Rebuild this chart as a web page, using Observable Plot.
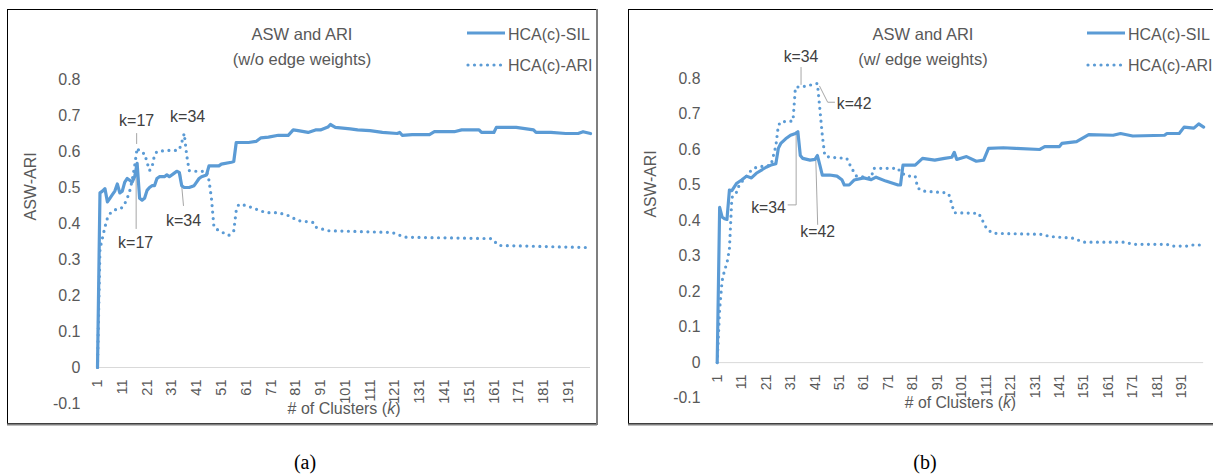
<!DOCTYPE html>
<html><head><meta charset="utf-8">
<script src="https://cdn.jsdelivr.net/npm/d3@7"></script>
<script src="https://cdn.jsdelivr.net/npm/@observablehq/plot@0.6"></script>
<style>
body{margin:0;background:#fff;width:1213px;height:476px;overflow:hidden;position:relative;font-family:"Liberation Sans",Arial,sans-serif;}
.panel{position:absolute;top:0;}
#deco{position:absolute;left:0;top:0;}
</style></head><body>
<svg id="deco" width="1213" height="476"></svg>
<div id="pa" class="panel" style="left:0px"></div>
<div id="pb" class="panel" style="left:621px"></div>
<script>
// ---------- data ----------
const xTicks = [1,11,21,31,41,51,61,71,81,91,101,111,121,131,141,151,161,171,181,191];
const yTicks = [-0.1,0,0.1,0.2,0.3,0.4,0.5,0.6,0.7,0.8];
const seriesNames = ["HCA(c)-SIL","HCA(c)-ARI"];
const titlesA = ["ASW and ARI","(w/o edge weights)"];
const titlesB = ["ASW and ARI","(w/ edge weights)"];

const leftSIL = [[1,0],[2,0.485],[3,0.49],[4,0.497],[5,0.46],[6,0.47],[7,0.48],[8,0.49],[9,0.51],[10,0.485],[11,0.49],[12,0.515],[13,0.525],[14,0.52],[15,0.515],[16,0.53],[17,0.567],[18,0.47],[19,0.465],[20,0.47],[21,0.492],[22,0.5],[23,0.505],[24,0.505],[25,0.525],[26,0.53],[28,0.53],[29,0.535],[30,0.53],[32,0.54],[33,0.545],[34,0.542],[35,0.505],[36,0.5],[38,0.5],[40,0.505],[41,0.515],[42,0.525],[43,0.53],[45,0.535],[46,0.56],[50,0.56],[51,0.565],[55,0.57],[56,0.572],[57,0.625],[62,0.625],[65,0.628],[67,0.638],[70,0.64],[74,0.645],[78,0.645],[80,0.66],[82,0.658],[86,0.653],[89,0.66],[91,0.66],[94,0.668],[95,0.675],[97,0.667],[103,0.663],[106,0.66],[111,0.658],[116,0.653],[122,0.65],[123,0.653],[124,0.645],[128,0.647],[135,0.647],[137,0.655],[145,0.655],[148,0.66],[155,0.66],[156,0.653],[161,0.653],[162,0.667],[170,0.667],[177,0.66],[178,0.653],[184,0.653],[190,0.65],[195,0.65],[197,0.655],[200,0.65]];
const leftARI = [[1,0],[2,0.33],[3,0.36],[4,0.39],[5,0.415],[6,0.427],[7,0.435],[8,0.438],[10,0.44],[11,0.445],[12,0.455],[13,0.47],[14,0.49],[15,0.52],[16,0.56],[17,0.61],[18,0.6],[19,0.595],[20,0.595],[21,0.57],[22,0.547],[23,0.556],[24,0.59],[25,0.6],[29,0.603],[33,0.603],[34,0.605],[35,0.625],[36,0.65],[37,0.59],[38,0.547],[41,0.545],[45,0.545],[46,0.52],[47,0.47],[48,0.39],[50,0.38],[54,0.367],[56,0.38],[57,0.436],[58,0.453],[61,0.45],[65,0.44],[69,0.43],[74,0.43],[78,0.422],[82,0.408],[88,0.403],[89,0.39],[94,0.38],[120,0.375],[125,0.362],[160,0.358],[163,0.339],[200,0.333]];
const rightSIL = [[1,0],[2,0.437],[3,0.41],[4,0.405],[5,0.403],[6,0.486],[7,0.484],[9,0.505],[11,0.514],[13,0.525],[15,0.52],[17,0.533],[21,0.55],[23,0.556],[25,0.56],[26,0.603],[27,0.617],[29,0.63],[31,0.64],[33,0.645],[34,0.65],[35,0.583],[36,0.575],[39,0.57],[41,0.572],[42,0.583],[43,0.556],[44,0.528],[47,0.528],[50,0.525],[52,0.515],[53,0.5],[55,0.5],[57,0.514],[61,0.52],[64,0.515],[66,0.522],[70,0.511],[75,0.5],[76,0.5],[77,0.556],[82,0.556],[85,0.575],[90,0.57],[94,0.575],[97,0.578],[98,0.592],[99,0.572],[103,0.58],[107,0.567],[110,0.57],[112,0.603],[118,0.605],[123,0.603],[133,0.6],[135,0.608],[141,0.608],[142,0.617],[148,0.622],[153,0.642],[163,0.64],[166,0.645],[171,0.638],[184,0.64],[185,0.645],[190,0.645],[192,0.663],[196,0.66],[198,0.672],[200,0.663]];
const rightARI = [[1,0],[2,0.15],[3,0.23],[4,0.26],[5,0.28],[6,0.32],[7,0.464],[8,0.475],[9,0.48],[10,0.5],[15,0.542],[17,0.55],[23,0.556],[25,0.61],[26,0.667],[27,0.678],[32,0.68],[33,0.775],[37,0.778],[42,0.786],[43,0.714],[44,0.64],[45,0.583],[47,0.578],[54,0.575],[56,0.547],[58,0.525],[64,0.52],[65,0.547],[75,0.547],[76,0.535],[79,0.525],[82,0.525],[83,0.492],[85,0.483],[95,0.478],[96,0.47],[97,0.445],[98,0.422],[108,0.42],[110,0.394],[111,0.38],[112,0.372],[114,0.364],[134,0.361],[137,0.355],[147,0.35],[149,0.344],[151,0.339],[168,0.339],[171,0.333],[185,0.333],[187,0.328],[193,0.328],[195,0.331],[200,0.331]];

const leftNotes = [{label:"k=17",tk:16.8,tv:0.686},{label:"k=34",tk:37.4,tv:0.697},{label:"k=17",tk:16.4,tv:0.347},{label:"k=34",tk:35.7,tv:0.408}];
const leftLeaders = [{id:1,k:16.8,v:0.65},{id:1,k:16.8,v:0.622},{id:3,k:16.6,v:0.386},{id:3,k:16.6,v:0.567},{id:4,k:35.7,v:0.45},{id:4,k:34.5,v:0.542}];
const rightNotes = [{label:"k=34",tk:35.3,tv:0.861},{label:"k=42",tk:57.0,tv:0.728},{label:"k=34",tk:22.0,tv:0.436},{label:"k=42",tk:42.1,tv:0.367}];
const rightLeaders = [{id:1,k:35.3,v:0.831},{id:1,k:35.3,v:0.783},{id:2,k:49.0,v:0.733},{id:2,k:46.2,v:0.733},{id:2,k:42.9,v:0.778},{id:3,k:30.0,v:0.444},{id:3,k:33.3,v:0.444},{id:3,k:33.3,v:0.65},{id:4,k:42.1,v:0.389},{id:4,k:41.3,v:0.581}];

// ---------- style ----------
const BLUE = "#5b9bd5", GREY = "#595959", FONT = "'Liberation Sans', Arial, sans-serif";
const DOT = {w: 3.2, dash: "0 6.5"};

function panel(sil, ari, notes, leaders) {
  const p = Plot.plot({
    width: 600, height: 430,
    marginLeft: 97, marginRight: 10, marginTop: 79, marginBottom: 27,
    x: {domain: [1, 200], axis: null},
    y: {domain: [-0.1, 0.8], axis: null},
    style: {fontFamily: FONT, fontSize: "16px", color: GREY, background: "transparent", overflow: "visible"},
    marks: [
      Plot.ruleY([0], {stroke: "#d9d9d9", strokeWidth: 1}),
      Plot.axisY(yTicks, {tickSize: 0, tickPadding: 17, tickFormat: d => d === 0 ? "0" : d.toFixed(1), fontSize: 16, fill: GREY, label: null}),
      Plot.text(xTicks, {x: d => d, y: 0, text: d => String(d), rotate: -90, textAnchor: "end", dy: 12, fontSize: 14.5, fill: GREY}),
      Plot.text(["ASW-ARI"], {frameAnchor: "left", dx: -67, dy: -21, rotate: -90, fontSize: 16, fill: GREY}),
      Plot.text(["# of Clusters (k)"], {frameAnchor: "bottom", dy: 10, fontSize: 16, fill: GREY}),
      Plot.line(leaders, {x: "k", y: "v", z: "id", stroke: "#a6a6a6", strokeWidth: 1}),
      Plot.line(sil, {x: d => d[0], y: d => d[1], stroke: BLUE, strokeWidth: 3.2, strokeLinejoin: "round"}),
      Plot.line(ari, {x: d => d[0], y: d => d[1], stroke: BLUE, strokeWidth: DOT.w, strokeDasharray: DOT.dash, strokeLinecap: "round"}),
      Plot.text(notes, {x: "tk", y: "tv", text: "label", fontSize: 16, fill: "#404040"})
    ]
  });
  p.querySelectorAll("text").forEach(t => {
    if (t.textContent === "# of Clusters (k)") t.innerHTML = '# of Clusters (<tspan font-style="italic">k</tspan>)';
  });
  return p;
}

document.getElementById("pa").appendChild(panel(leftSIL, leftARI, leftNotes, leftLeaders));
document.getElementById("pb").appendChild(panel(rightSIL, rightARI, rightNotes, rightLeaders));

// ---------- frames, titles, legends, captions ----------
const deco = d3.select("#deco");
function box(x, w) {
  deco.append("rect").attr("x", x + 0.5).attr("y", 9.5).attr("width", w).attr("height", 414)
    .attr("fill", "none").attr("stroke", "#000").attr("stroke-width", 1);
  deco.append("line").attr("x1", x).attr("x2", x + w + 1).attr("y1", 424.5).attr("y2", 424.5).attr("stroke", "#7f7f7f").attr("stroke-width", 2);
  deco.append("line").attr("x1", x + w + 1).attr("x2", x + w + 1).attr("y1", 9).attr("y2", 425).attr("stroke", "#7f7f7f").attr("stroke-width", 2);
}
box(7, 589);
box(628, 700);

function titles(cx, lines) {
  lines.forEach((s, i) => deco.append("text").attr("x", cx).attr("y", 34 + i * 25).attr("dy", "0.35em")
    .attr("text-anchor", "middle").attr("font-family", FONT).attr("font-size", 16.5).attr("fill", GREY).text(s));
}
titles(302, titlesA);
titles(923, titlesB);

function legend(x0) {
  deco.append("line").attr("x1", x0).attr("x2", x0 + 38).attr("y1", 33).attr("y2", 33).attr("stroke", BLUE).attr("stroke-width", 3.2);
  deco.append("line").attr("x1", x0 + 1).attr("x2", x0 + 36).attr("y1", 65).attr("y2", 65).attr("stroke", BLUE)
    .attr("stroke-width", DOT.w).attr("stroke-dasharray", DOT.dash).attr("stroke-linecap", "round");
  seriesNames.forEach((s, i) => deco.append("text").attr("x", x0 + 41).attr("y", i ? 65 : 34).attr("dy", "0.35em")
    .attr("font-family", FONT).attr("font-size", 16).attr("fill", GREY).text(s));
}
legend(467);
legend(1087);

[["(a)", 305], ["(b)", 925]].forEach(([s, x]) => deco.append("text").attr("x", x).attr("y", 462).attr("dy", "0.35em")
  .attr("text-anchor", "middle").attr("font-family", "'Liberation Serif', 'Times New Roman', serif").attr("font-size", 20).attr("fill", "#000").text(s));
</script>
</body></html>
